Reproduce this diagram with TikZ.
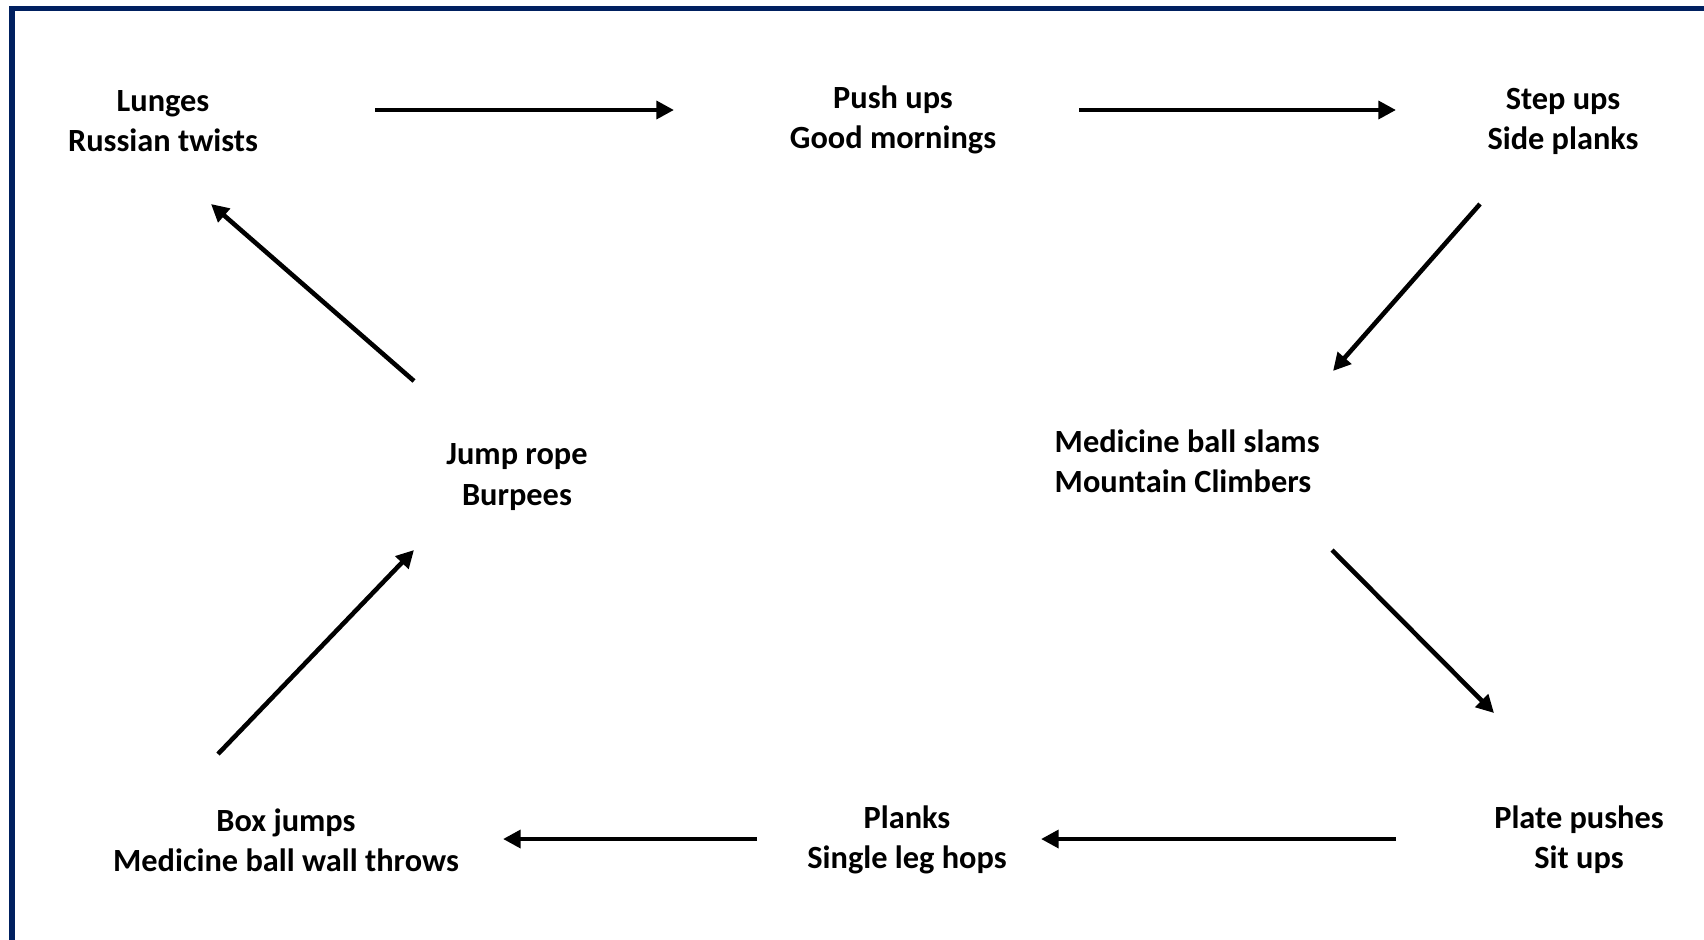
\documentclass[tikz,border=0pt]{standalone}
\usepackage{fontspec}
\setmainfont{Carlito}
\usetikzlibrary{arrows.meta}
\definecolor{frame}{RGB}{0,32,96}
\tikzset{
  move/.style={font=\bfseries\fontsize{9.2}{11.4}\selectfont,align=center,inner sep=0pt},
  flow/.style={draw=black,line width=1.3pt,-{Triangle[length=5pt,width=5pt]}}
}

\begin{document}
\begin{tikzpicture}[x=0.01cm,y=-0.01cm]
  \useasboundingbox (0,0) rectangle (1704,939);
  \clip (0,0) rectangle (1704,939);
  \draw[frame,line width=1.7pt] (12,8.5) rectangle (1710,945);
  % stations
  \node[move] (lun) at (163,121) {Lunges\\Russian twists};
  \node[move] (push) at (893,120) {Push ups\\Good mornings};
  \node[move] (step) at (1563,121) {Step ups\\Side planks};
  \node[move,align=left,anchor=west] (med) at (1054,461) {Medicine ball slams\\Mountain Climbers};
  \node[move] (jump) at (517,477) {Jump rope\\Burpees};
  \node[move] (box) at (286,840) {Box jumps\\Medicine ball wall throws};
  \node[move] (plank) at (907,840) {Planks\\Single leg hops};
  \node[move] (plate) at (1579,840) {Plate pushes\\Sit ups};
  % circuit
  \draw[flow] ([shift={(212,-11)}]lun.center) -- ([shift={(-219,-10)}]push.center);
  \draw[flow] ([shift={(186,-10)}]push.center) -- ([shift={(-167,-11)}]step.center);
  \draw[flow] ([shift={(-83,83)}]step.center) -- ([shift={(279,-90)}]med.west);
  \draw[flow] ([shift={(278,89)}]med.west) -- ([shift={(-85,-127)}]plate.center);
  \draw[flow] ([shift={(-183,-1)}]plate.center) -- ([shift={(134,-1)}]plank.center);
  \draw[flow] ([shift={(-150,-1)}]plank.center) -- ([shift={(217,-1)}]box.center);
  \draw[flow] ([shift={(-68,-86)}]box.center) -- ([shift={(-103,73)}]jump.center);
  \draw[flow] ([shift={(-103,-96)}]jump.center) -- ([shift={(48,83)}]lun.center);
\end{tikzpicture}
\end{document}
